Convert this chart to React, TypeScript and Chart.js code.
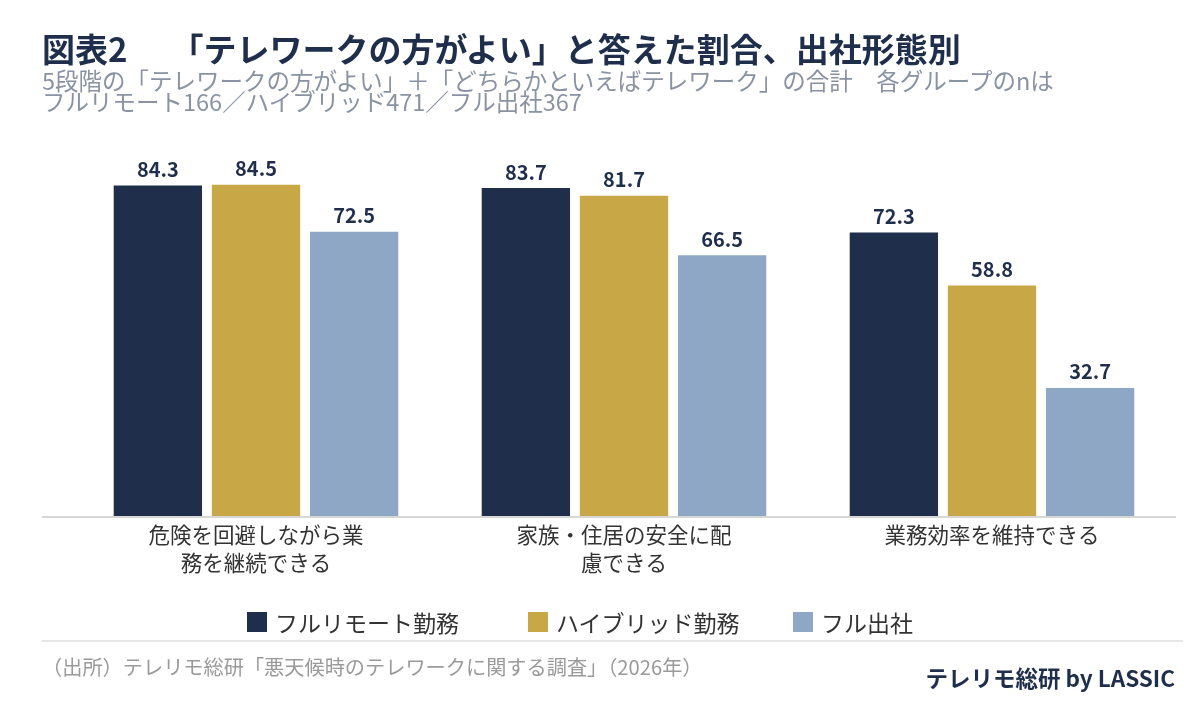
import React, { useEffect, useRef } from "react";
import { Chart, registerables } from "chart.js";

Chart.register(...registerables);

const categories: string[][] = [
  ["危険を回避しながら業", "務を継続できる"],
  ["家族・住居の安全に配", "慮できる"],
  ["業務効率を維持できる"],
];
const seriesNames = ["フルリモート勤務", "ハイブリッド勤務", "フル出社"];
const fullRemote = [84.3, 83.7, 72.3];
const hybrid = [84.5, 81.7, 58.8];
const fullOffice = [72.5, 66.5, 32.7];
const colors = ["#1f2e4b", "#c8a746", "#8ea7c5"];

const FONT = '"Noto Sans CJK JP", "Noto Sans", sans-serif';

const valueLabels = {
  id: "valueLabels",
  afterDatasetsDraw(chart: any) {
    const ctx = chart.ctx;
    ctx.save();
    ctx.font = `bold 20px ${FONT}`;
    ctx.fillStyle = "#1f2e4b";
    ctx.textAlign = "center";
    ctx.textBaseline = "bottom";
    chart.data.datasets.forEach((ds: any, i: number) => {
      const meta = chart.getDatasetMeta(i);
      meta.data.forEach((el: any, j: number) => {
        ctx.fillText(Number(ds.data[j]).toFixed(1), el.x, el.y - 6);
      });
    });
    ctx.restore();
  },
};

const baseLine = {
  id: "baseLine",
  afterDatasetsDraw(chart: any) {
    const ctx = chart.ctx;
    const y = chart.scales.y.getPixelForValue(0);
    ctx.save();
    ctx.strokeStyle = "#d6d6d6";
    ctx.lineWidth = 2;
    ctx.beginPath();
    ctx.moveTo(42, y + 1);
    ctx.lineTo(1176, y + 1);
    ctx.stroke();
    ctx.restore();
  },
};

export default function App() {
  const ref = useRef<HTMLCanvasElement | null>(null);
  useEffect(() => {
    document.body.style.margin = "0";
    const chart = new Chart(ref.current as HTMLCanvasElement, {
      type: "bar",
      data: {
        labels: categories,
        datasets: [fullRemote, hybrid, fullOffice].map((d, i) => ({
          label: seriesNames[i],
          data: d,
          backgroundColor: colors[i],
          categoryPercentage: 0.8,
          barPercentage: 0.9,
        })),
      },
      options: {
        responsive: false,
        animation: false,
        devicePixelRatio: 1,
        layout: { padding: { top: 124, left: 72, right: 24, bottom: 125 } },
        scales: {
          y: { display: false, min: 0, max: 100 },
          x: {
            grid: { display: false, drawTicks: false },
            border: { display: false },
            ticks: {
              color: "#333333",
              font: { family: FONT, size: 21.5, lineHeight: 1.3 },
              padding: 5,
              maxRotation: 0,
            },
          },
        },
        plugins: {
          legend: { display: false },
          tooltip: { enabled: false },
        },
      },
      plugins: [valueLabels, baseLine],
    });
    return () => chart.destroy();
  }, []);

  const legendItem = (i: number, left: number) => (
    <div key={i} style={{ position: "absolute", left, top: 607, display: "flex", alignItems: "center", height: 30, whiteSpace: "nowrap" }}>
      <div style={{ width: 20, height: 20, background: colors[i], marginRight: 8 }} />
      <span style={{ fontSize: 23, color: "#333333", lineHeight: "30px" }}>{seriesNames[i]}</span>
    </div>
  );

  return (
    <div style={{ position: "absolute", left: 0, top: 0, width: 1200, height: 707, background: "#fff", fontFamily: FONT, overflow: "hidden" }}>
      <canvas ref={ref} width={1200} height={707} style={{ position: "absolute", left: 0, top: 0 }} />
      <div style={{ position: "absolute", left: 42, top: 27, fontSize: 33, fontWeight: 700, color: "#1f2e4b", lineHeight: "42px", whiteSpace: "nowrap" }}>
        <span>図表2</span>
        <span style={{ marginLeft: 43 }}>「テレワークの方がよい」と答えた割合、出社形態別</span>
      </div>
      <div style={{ position: "absolute", left: 42, top: 70, fontSize: 23.5, color: "#8a93a3", lineHeight: "21px", whiteSpace: "nowrap" }}>
        <div>5段階の「テレワークの方がよい」＋「どちらかといえばテレワーク」の合計　各グループのnは</div>
        <div>フルリモート166／ハイブリッド471／フル出社367</div>
      </div>
      {legendItem(0, 247)}
      {legendItem(1, 528)}
      {legendItem(2, 793)}
      <div style={{ position: "absolute", left: 42, top: 640, width: 1141, height: 2, background: "#e6e6e6" }} />
      <div style={{ position: "absolute", left: 42, top: 653, fontSize: 20.2, color: "#9a9a9a", lineHeight: "28px", whiteSpace: "nowrap" }}>
        （出所）テレリモ総研「悪天候時のテレワークに関する調査」（2026年）
      </div>
      <div style={{ position: "absolute", right: 25, top: 662, fontSize: 22.5, fontWeight: 700, color: "#1f2e4b", lineHeight: "30px", whiteSpace: "nowrap" }}>
        テレリモ総研 by LASSIC
      </div>
    </div>
  );
}
